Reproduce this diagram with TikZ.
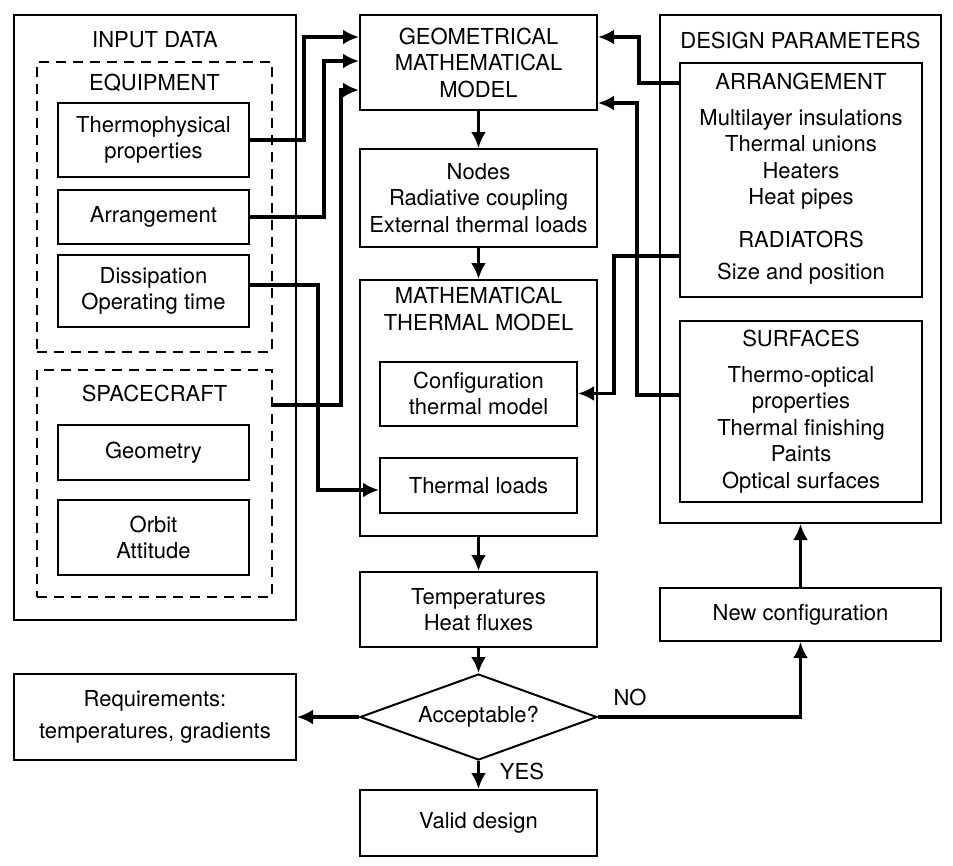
\documentclass[tikz,border=0pt]{standalone}
\usepackage{fontspec}
\setmainfont{TeX Gyre Heros}
\usetikzlibrary{positioning,arrows.meta,shapes.geometric}

\tikzset{
    box/.style={draw, line width=2pt, align=center, inner sep=0pt},
    dbox/.style={draw, line width=2pt, dash pattern=on 10pt off 7pt},
    txt/.style={align=center, inner sep=0pt},
    flow/.style={line width=3.2pt, -{Latex[length=16pt,width=15pt]}},
}

\begin{document}
\begin{tikzpicture}[x=1pt, y=-1pt, font=\fontsize{22}{26.5}\selectfont]
\useasboundingbox (0,0) rectangle (953,865);

% input data
\node[box, minimum width=282, minimum height=605] at (155,317.5) (input) {};
\node[txt] at (155,40) (inputlbl) {INPUT DATA};
\node[dbox, minimum width=235, minimum height=290] at (154.5,207) (equip) {};
\node[txt] at (154.5,83) (equiplbl) {EQUIPMENT};
\node[box, minimum width=191, minimum height=74] at (153.5,140) (thermo) {Thermophysical\\properties};
\node[box, minimum width=191, minimum height=54] at (153.5,217) (arrin) {Arrangement};
\node[box, minimum width=191, minimum height=72] at (153.5,291) (diss) {Dissipation\\Operating time};
\node[dbox, minimum width=235, minimum height=227] at (154.5,483.5) (space) {};
\node[txt] at (154.5,393) (spacelbl) {SPACECRAFT};
\node[box, minimum width=191, minimum height=55] at (153.5,452.5) (geom) {Geometry};
\node[box, minimum width=191, minimum height=75] at (153.5,537.5) (orbit) {Orbit\\Attitude};

% centre column
\node[box, minimum width=237, minimum height=95] at (478.5,62.5) (gmm) {GEOMETRICAL\\MATHEMATICAL\\MODEL};
\node[box, minimum width=237, minimum height=98, below=37pt of gmm] (nodes) {Nodes\\Radiative coupling\\External thermal loads};
\node[box, minimum width=237, minimum height=256, below=31pt of nodes] (mtm) {};
\node[txt] at (478.5,309) (mtmlbl) {MATHEMATICAL\\THERMAL MODEL};
\node[box, minimum width=197, minimum height=64] at (478.5,393.5) (config) {Configuration\\thermal model};
\node[box, minimum width=197, minimum height=55] at (478.5,485.5) (loads) {Thermal loads};
\node[box, minimum width=237, minimum height=75, below=34pt of mtm] (temps) {Temperatures\\Heat fluxes};
\node[draw, diamond, line width=2pt, aspect=2.75, inner sep=0pt, minimum width=237, minimum height=86] at (478.5,717) (accept) {Acceptable?};
\node[box, minimum width=237, minimum height=66] at (478.5,823) (valid) {Valid design};
\node[box, minimum width=282, minimum height=86] at (155,717) (reqs) {Requirements:\\[5pt]temperatures, gradients};

% design parameters
\node[box, minimum width=281, minimum height=508] at (800.5,269) (design) {};
\node[txt] at (800.5,40) (designlbl) {DESIGN PARAMETERS};
\node[box, minimum width=242, minimum height=234] at (801,180) (arrdes) {};
\node[txt, anchor=north] at (801,73) (arrlbl) {ARRANGEMENT\\[9pt]Multilayer insulations\\Thermal unions\\Heaters\\Heat pipes\\[16pt]RADIATORS\\[6pt]Size and position};
\node[box, minimum width=242, minimum height=181] at (801,411.5) (surf) {};
\node[txt, anchor=north] at (801,330) (surflbl) {SURFACES\\[9pt]Thermo-optical\\properties\\Thermal finishing\\Paints\\Optical surfaces};
\node[box, minimum width=281, minimum height=53] at (800.5,614.5) (newc) {New configuration};

\node[txt] at (630,697) (nolbl) {NO};
\node[txt] at (522,771) (yeslbl) {YES};

% inputs to models
\draw[flow] (thermo.east) -- ++(54,0) |- ([yshift=25.5pt]gmm.west);
\draw[flow] (arrin.east) -- ++(74,0) |- ([yshift=1.5pt]gmm.west);
\draw[flow] ([yshift=78.5pt]space.east) -- ++(68,0) |- ([yshift=-27.5pt]gmm.west);
\draw[flow] ([yshift=6pt]diss.east) -- ++(68,0) |- ([yshift=-4.5pt]loads.west);
\draw[flow] ([yshift=97pt]arrdes.west) -- ++(-40,0) |- ([yshift=25.5pt]gmm.east);
\draw[flow] ([yshift=16.5pt]surf.west) -- ++(-42,0) |- ([yshift=-40.5pt]gmm.east);
\draw[flow] ([yshift=-76pt]arrdes.west) -- ++(-65,0) |- (config.east);

% main flow
\draw[flow] (gmm) -- (nodes);
\draw[flow] (nodes) -- (mtm);
\draw[flow] (mtm) -- (temps);
\draw[flow] (temps) -- (accept);
\draw[flow] (accept) -- (valid);
\draw[flow] (accept.west) -- (reqs.east);
\draw[flow] (accept.east) -| (newc.south);
\draw[flow] (newc) -- (design);
\end{tikzpicture}
\end{document}
